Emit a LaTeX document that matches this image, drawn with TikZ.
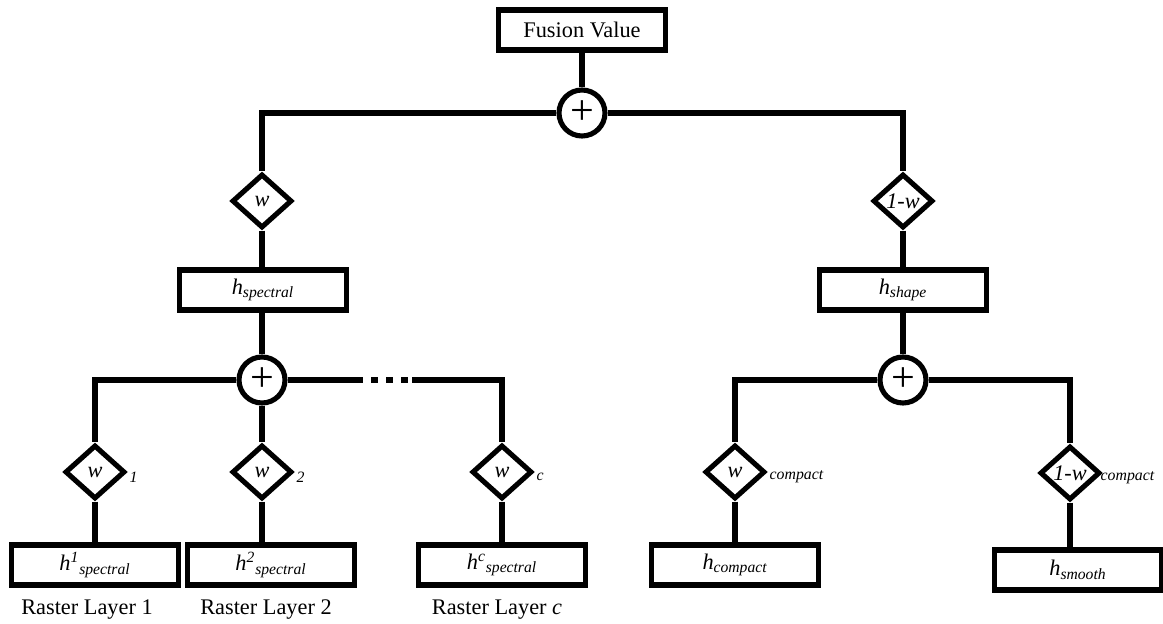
\documentclass[tikz,border=0pt]{standalone}
\usepackage{fontspec}
\setmainfont{Liberation Serif}
\usetikzlibrary{shapes.geometric}

\tikzset{
  fbox/.style={draw, line width=2.9pt, minimum width=3.34cm, minimum height=0.8cm, inner sep=0pt, font=\fontsize{12.7}{15}\selectfont},
  wdiam/.style={draw, diamond, line width=2.9pt, minimum width=1.2cm, minimum height=1.08cm, inner sep=0pt, font=\fontsize{12.7}{15}\selectfont\itshape},
  sumnode/.style={draw, circle, line width=2.9pt, minimum size=0.92cm, inner sep=0pt, font=\fontsize{24}{24}\selectfont},
  wsub/.style={font=\fontsize{9}{10}\selectfont\itshape, inner sep=1pt, yshift=-0.1cm},
  layer/.style={font=\fontsize{12.7}{15}\selectfont},
  link/.style={line width=2.9pt},
}

\begin{document}
\begin{tikzpicture}
      \useasboundingbox (0,0) rectangle (23.26,-12.48);

      \node[fbox] (fusion) at (11.64,-0.6){Fusion Value};
      \node[sumnode] (sumtop) at (11.64,-2.26){+};

      \node[wdiam] (wspec) at (5.24,-4.02){w};
      \node[wdiam] (wshape) at (18.06,-4.02){1-w};
      \node[fbox] (hspec) at (5.26,-5.8){\itshape h\textsubscript{spectral}};
      \node[fbox] (hshape) at (18.06,-5.8){\itshape h\textsubscript{shape}};
      \node[sumnode] (sumspec) at (5.24,-7.6){+};
      \node[sumnode] (sumshape) at (18.06,-7.6){+};

      \node[wdiam, label={[wsub]east:1}] (w1) at (1.9,-9.44){w};
      \node[wdiam, label={[wsub]east:2}] (w2) at (5.24,-9.44){w};
      \node[wdiam, label={[wsub]east:c}] (wc) at (10.04,-9.44){w};
      \node[wdiam, label={[wsub]east:compact}] (wcomp) at (14.7,-9.44){w};
      \node[wdiam, label={[wsub, xshift=-0.08cm]east:compact}] (wsmooth) at (21.4,-9.46){1-w};

      \node[fbox] (hone) at (1.9,-11.3){\itshape h\textsuperscript{1}\textsubscript{spectral}};
      \node[fbox] (htwo) at (5.42,-11.3){\itshape h\textsuperscript{2}\textsubscript{spectral}};
      \node[fbox] (hc) at (10.04,-11.3){\itshape h\textsuperscript{c}\textsubscript{spectral}};
      \node[fbox] (hcomp) at (14.7,-11.3){\itshape h\textsubscript{compact}};
      \node[fbox] (hsmooth) at (21.56,-11.4){\itshape h\textsubscript{smooth}};

      \node[layer] (r1) at (1.74,-12.2){Raster Layer 1};
      \node[layer] (r2) at (5.32,-12.2){Raster Layer 2};
      \node[layer] (rc) at (9.94,-12.2){Raster Layer \textit{c}};

      \coordinate (gapa) at (7.26,-7.6);
      \coordinate (gapb) at (8.24,-7.6);

      \draw[link] (fusion) -- (sumtop);
      \draw[link] (sumtop) -| (wspec);
      \draw[link] (sumtop) -| (wshape);
      \draw[link] (wspec) -- (hspec.north -| wspec);
      \draw[link] (wshape) -- (hshape);
      \draw[link] (hspec.south -| sumspec) -- (sumspec);
      \draw[link] (hshape) -- (sumshape);

      % spectral layers
      \draw[link] (sumspec) -| (w1);
      \draw[link] (sumspec) -- (w2);
      \draw[link] (sumspec) -- (gapa);
      \draw[link, dash pattern=on 0.14cm off 0.16cm, dash phase=0.14cm] (gapa) -- (gapb);
      \draw[link] (gapb) -| (wc);
      \draw[link] (w1) -- (hone);
      \draw[link] (w2) -- (w2 |- htwo.north);
      \draw[link] (wc) -- (hc);

      % shape parts
      \draw[link] (sumshape) -| (wcomp);
      \draw[link] (sumshape) -| (wsmooth);
      \draw[link] (wcomp) -- (hcomp);
      \draw[link] (wsmooth) -- (wsmooth |- hsmooth.north);
    \end{tikzpicture}
\end{document}
